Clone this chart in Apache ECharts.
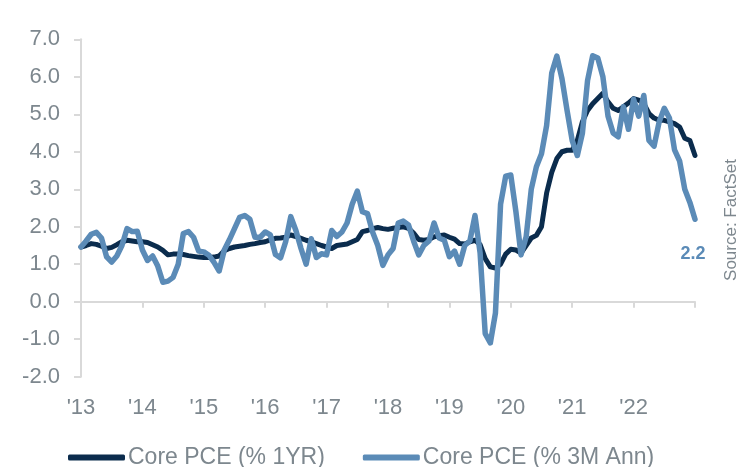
<!DOCTYPE html>
<html><head><meta charset="utf-8">
<script src="https://cdn.jsdelivr.net/npm/echarts@6/dist/echarts.min.js"></script>
<style>html,body{margin:0;padding:0;background:#fff}#c{width:737px;height:467px}</style>
</head><body><div id="c"></div>
<script>
// ---- data ----
const startYear = 2013;
const monthCount = 121;
const yearLabels = ["'13","'14","'15","'16","'17","'18","'19","'20","'21","'22"];
const seriesNames = ['Core PCE (% 1YR)', 'Core PCE (% 3M Ann)'];
const corePce1yr = [
  1.46,1.50,1.55,1.53,1.48,1.42,1.45,1.52,1.60,1.64,1.62,1.60,
  1.60,1.58,1.52,1.46,1.37,1.25,1.27,1.27,1.26,1.23,1.21,1.19,
  1.18,1.18,1.19,1.22,1.36,1.42,1.46,1.48,1.50,1.53,1.55,1.58,
  1.60,1.65,1.69,1.70,1.72,1.78,1.74,1.69,1.64,1.60,1.55,1.50,
  1.46,1.42,1.50,1.52,1.54,1.60,1.66,1.87,1.90,1.95,1.98,1.95,
  1.93,1.96,1.98,2.00,1.96,1.83,1.66,1.64,1.66,1.73,1.76,1.78,
  1.72,1.67,1.55,1.54,1.60,1.64,1.52,1.15,0.93,0.90,1.00,1.27,
  1.40,1.38,1.30,1.50,1.70,1.77,2.00,2.90,3.45,3.82,4.00,4.04,
  4.04,4.30,4.80,5.10,5.28,5.42,5.56,5.33,5.16,5.10,5.20,5.30,
  5.42,5.38,5.28,5.02,4.90,4.84,4.84,4.80,4.75,4.66,4.36,4.30,
  3.90
];
const corePce3mAnn = [
  1.46,1.62,1.80,1.85,1.70,1.20,1.06,1.22,1.50,1.95,1.87,1.88,
  1.38,1.10,1.22,0.95,0.52,0.55,0.65,1.00,1.82,1.87,1.72,1.35,
  1.33,1.24,1.05,0.82,1.38,1.65,1.95,2.25,2.30,2.20,1.72,1.72,
  1.86,1.78,1.26,1.17,1.60,2.27,1.90,1.42,1.00,1.68,1.18,1.28,
  1.25,1.90,1.74,1.86,2.10,2.60,2.95,2.40,2.35,1.85,1.50,0.97,
  1.25,1.42,2.10,2.15,2.05,1.62,1.25,1.50,1.62,2.10,1.70,1.64,
  1.20,1.35,1.00,1.50,1.62,2.30,1.30,-0.85,-1.10,-0.30,2.60,3.35,
  3.38,2.40,1.25,1.73,3.00,3.60,3.95,4.70,6.10,6.55,5.95,5.10,
  4.30,3.90,4.50,5.90,6.56,6.50,6.00,4.95,4.50,4.40,5.20,4.60,
  5.40,4.95,5.50,4.30,4.15,4.80,5.16,4.90,4.05,3.75,3.00,2.65,
  2.20
];
const months = [];
for (let i = 0; i < monthCount; i++) {
  months.push((startYear + Math.floor(i / 12)) + '-' + String(i % 12 + 1).padStart(2, '0'));
}

// ---- chart ----
const FONT = '"Liberation Sans", Arial, sans-serif';
const GRAY = '#7d878e';
const AXIS = '#d9d9d9';
const DARK = '#0b2c4d';
const BLUE = '#5b8bb7';

const chart = echarts.init(document.getElementById('c'), null, {renderer: 'canvas'});
chart.setOption({
  animation: false,
  backgroundColor: '#ffffff',
  textStyle: {fontFamily: FONT},
  grid: {left: 81, right: 42, top: 39.3, bottom: 90.3, containLabel: false},
  legend: {
    left: 63, top: 441,
    icon: 'roundRect', itemWidth: 57, itemHeight: 6, itemGap: 38,
    textStyle: {fontSize: 23, color: GRAY, fontFamily: FONT, padding: [0, 0, 0, -2]},
    data: seriesNames
  },
  xAxis: [
    {
      type: 'category', data: months, boundaryGap: false,
      axisLine: {show: true, onZero: true, lineStyle: {color: AXIS, width: 2}},
      axisTick: {show: true, length: 6, interval: (i) => i % 12 === 0, lineStyle: {color: AXIS, width: 2}},
      axisLabel: {show: false},
      splitLine: {show: false}
    },
    {
      type: 'category', data: months, boundaryGap: false, position: 'bottom',
      axisLine: {show: false, onZero: false},
      axisTick: {show: false},
      axisLabel: {
        show: true, margin: 20, fontSize: 22, color: GRAY, fontFamily: FONT,
        interval: (i) => i % 12 === 0 && i / 12 < yearLabels.length,
        formatter: (v, i) => yearLabels[Math.floor(i / 12)] || ''
      },
      splitLine: {show: false}
    }
  ],
  yAxis: {
    type: 'value', min: -2, max: 7, interval: 1,
    axisLine: {show: true, onZero: false, lineStyle: {color: AXIS, width: 2}},
    axisTick: {show: true, length: 7, lineStyle: {color: AXIS, width: 2}},
    axisLabel: {fontSize: 22, color: GRAY, margin: 21, fontFamily: FONT, formatter: (v) => v.toFixed(1)},
    splitLine: {show: false}
  },
  series: [
    {
      name: seriesNames[0], type: 'line', xAxisIndex: 0, data: corePce1yr,
      symbol: 'none', smooth: false, z: 2,
      itemStyle: {color: DARK},
      lineStyle: {color: DARK, width: 5, join: 'round', cap: 'round'}
    },
    {
      name: seriesNames[1], type: 'line', xAxisIndex: 0, data: corePce3mAnn,
      symbol: 'none', smooth: false, z: 3,
      itemStyle: {color: BLUE},
      lineStyle: {color: BLUE, width: 5.5, join: 'round', cap: 'round'},
      endLabel: {
        show: true, formatter: (p) => Number(p.value).toFixed(1),
        fontSize: 18, fontWeight: 'bold', color: BLUE, fontFamily: FONT,
        distance: 0, align: 'center', offset: [-2, 35]
      }
    }
  ],
  graphic: [
    {
      type: 'text', x: 731, y: 220, rotation: Math.PI / 2,
      style: {text: 'Source: FactSet', fill: GRAY, font: '17px "Liberation Sans", Arial, sans-serif',
              textAlign: 'center', textVerticalAlign: 'middle'}
    }
  ]
});
</script>
</body></html>
